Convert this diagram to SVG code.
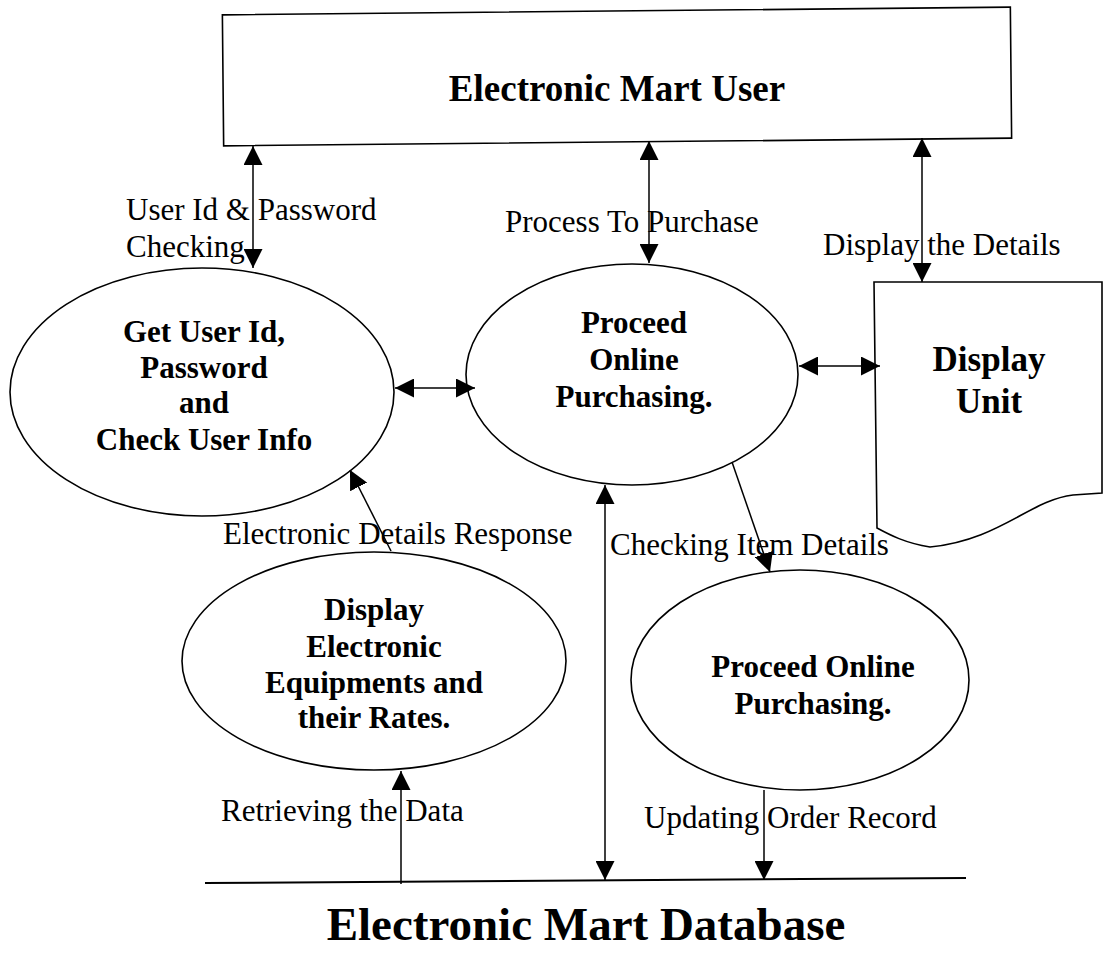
<svg xmlns="http://www.w3.org/2000/svg" width="1104" height="962" viewBox="0 0 1104 962">
<style>
.shape{fill:#fff;stroke:#000;stroke-width:1.6}
.conn{stroke:#000;stroke-width:1.5;fill:none}
.lbl{font-family:"Liberation Serif","Times New Roman",serif;font-size:31px;fill:#000}
.bold{font-family:"Liberation Serif","Times New Roman",serif;font-size:31px;font-weight:bold;fill:#000;text-anchor:middle}
</style>
<defs>
<marker id="ah" viewBox="0 0 19 19" refX="19" refY="9.5" markerWidth="19" markerHeight="19" markerUnits="userSpaceOnUse" orient="auto-start-reverse">
<path d="M0,0 L19,9.5 L0,19 Z" fill="#000"/>
</marker>
</defs>
<rect width="1104" height="962" fill="#fff"/>
<g id="user">
<rect class="shape" x="223" y="11" width="788" height="131" transform="rotate(-0.56 617 76.5)"/>
<text class="bold" x="617" y="101" style="font-size:37px">Electronic Mart User</text>
</g>
<g id="getuser">
<ellipse class="shape" cx="202" cy="392" rx="192" ry="124"/>
<text class="bold" x="204" y="342">Get User Id,</text>
<text class="bold" x="204" y="378">Password</text>
<text class="bold" x="204" y="413">and</text>
<text class="bold" x="204" y="450">Check User Info</text>
</g>
<g id="proceed1">
<ellipse class="shape" cx="632" cy="374.5" rx="166" ry="110.5"/>
<text class="bold" x="634" y="333">Proceed</text>
<text class="bold" x="634" y="370">Online</text>
<text class="bold" x="634" y="407">Purchasing.</text>
</g>
<g id="displayunit">
<path class="shape" d="M874,282 L1102,282 L1102,493 L1073,495 C1030,500 1000,540 930,547 C905,543 890,535 877,528 Z"/>
<text class="bold" x="989" y="371" style="font-size:35px">Display</text>
<text class="bold" x="989" y="413" style="font-size:35px">Unit</text>
</g>
<g id="displayelec">
<ellipse class="shape" cx="374" cy="661" rx="192" ry="109"/>
<text class="bold" x="374" y="620">Display</text>
<text class="bold" x="374" y="657">Electronic</text>
<text class="bold" x="374" y="693">Equipments and</text>
<text class="bold" x="374" y="728">their Rates.</text>
</g>
<g id="proceed2">
<ellipse class="shape" cx="800" cy="680" rx="169" ry="110"/>
<text class="bold" x="813" y="677">Proceed Online</text>
<text class="bold" x="813" y="714">Purchasing.</text>
</g>
<g id="database">
<line x1="205" y1="883" x2="966" y2="878" stroke="#000" stroke-width="2"/>
<text class="bold" x="586" y="940" style="font-size:47px">Electronic Mart Database</text>
</g>
<g id="connectors">
<line class="conn" x1="253" y1="146" x2="253" y2="268" marker-start="url(#ah)" marker-end="url(#ah)"/>
<line class="conn" x1="649" y1="141" x2="649" y2="263" marker-start="url(#ah)" marker-end="url(#ah)"/>
<line class="conn" x1="922" y1="138" x2="922" y2="282" marker-start="url(#ah)" marker-end="url(#ah)"/>
<line class="conn" x1="395" y1="388" x2="475" y2="388" marker-start="url(#ah)" marker-end="url(#ah)"/>
<line class="conn" x1="799" y1="366" x2="880" y2="366" marker-start="url(#ah)" marker-end="url(#ah)"/>
<line class="conn" x1="391" y1="551" x2="350" y2="470" marker-end="url(#ah)"/>
<line class="conn" x1="401" y1="884" x2="401" y2="771" marker-end="url(#ah)"/>
<line class="conn" x1="605" y1="485" x2="605" y2="880" marker-start="url(#ah)" marker-end="url(#ah)"/>
<line class="conn" x1="732" y1="462" x2="770" y2="572" marker-end="url(#ah)"/>
<line class="conn" x1="764" y1="790" x2="764" y2="880" marker-end="url(#ah)"/>
</g>
<g id="labels">
<text class="lbl" x="126" y="220">User Id &amp; Password</text>
<text class="lbl" x="126" y="257">Checking</text>
<text class="lbl" x="505" y="232">Process To Purchase</text>
<text class="lbl" x="823" y="255">Display the Details</text>
<text class="lbl" x="223" y="544">Electronic Details Response</text>
<text class="lbl" x="610" y="555">Checking Item Details</text>
<text class="lbl" x="221" y="821">Retrieving the Data</text>
<text class="lbl" x="644" y="828">Updating Order Record</text>
</g>
</svg>
